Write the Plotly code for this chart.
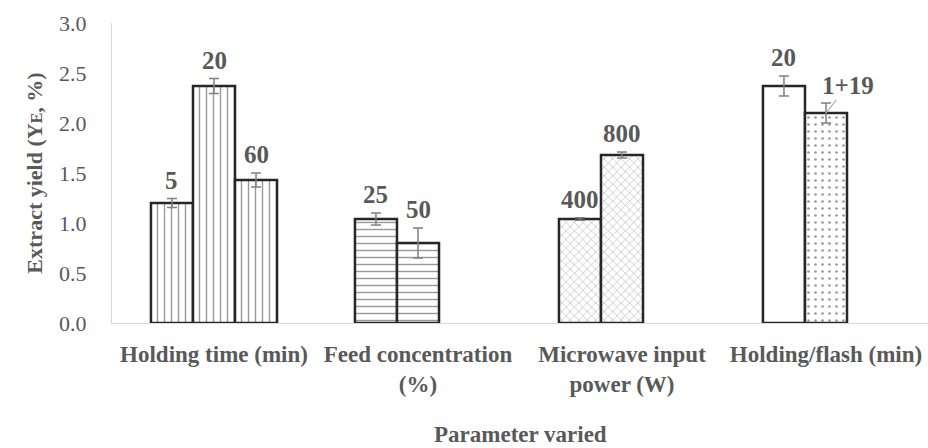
import plotly.graph_objects as go

categories = ["Holding time (min)", "Feed concentration<br>(%)", "Microwave input<br>power (W)", "Holding/flash (min)"]

slot1_vals = [1.20, 1.04, 1.04, 2.37]
slot1_err = [0.045, 0.06, 0.012, 0.10]
slot1_lbls = ["5", "25", "400", "20"]

slot2_vals = [2.37, 0.80, 1.68, 2.10]
slot2_err = [0.075, 0.15, 0.03, 0.10]
slot2_lbls = ["20", "50", "800", "1+19"]

slot3_vals = [1.43, None, None, None]
slot3_err = [0.07, 0, 0, 0]
slot3_lbls = ["60", "", "", ""]

x_title = "Parameter varied"

# pattern per category group
group_shapes_1 = ["|", "-", "x", ""]
group_shapes_2 = ["|", "-", "x", "."]
group_shapes_3 = ["|", "", "", ""]

TXT = "#595959"
FONT = "Liberation Serif"
x_idx = list(range(len(categories)))

def pat(shapes):
    sizes = []
    sol = []
    for s in shapes:
        if s == "|" or s == "-":
            sizes.append(7); sol.append(0.2)
        elif s == "x":
            sizes.append(6); sol.append(0.15)
        elif s == ".":
            sizes.append(7); sol.append(0.12)
        else:
            sizes.append(8); sol.append(0.2)
    return dict(shape=shapes, size=sizes, solidity=sol, fgcolor="#333333", bgcolor="white", fillmode="overlay")

fig = go.Figure()
for vals, errs, shapes in [(slot1_vals, slot1_err, group_shapes_1),
                           (slot2_vals, slot2_err, group_shapes_2),
                           (slot3_vals, slot3_err, group_shapes_3)]:
    fig.add_trace(go.Bar(
        x=x_idx, y=vals,
        marker=dict(color="white", line=dict(color="#262626", width=2.5), pattern=pat(shapes)),
        error_y=dict(type="data", array=errs, color="#808080", thickness=1.5, width=5),
        showlegend=False,
    ))

n_slots = 3
bargap = 0.382
w = (1 - bargap) / n_slots
for slot, (vals, errs, lbls) in enumerate([(slot1_vals, slot1_err, slot1_lbls),
                                           (slot2_vals, slot2_err, slot2_lbls),
                                           (slot3_vals, slot3_err, slot3_lbls)]):
    for i, (v, e, l) in enumerate(zip(vals, errs, lbls)):
        if v is None or not l:
            continue
        xc = i + (slot - 1) * w
        if l == "1+19":
            fig.add_annotation(x=xc, y=v, text="<b>%s</b>" % l, showarrow=True, arrowhead=0,
                               arrowcolor="#a6a6a6", arrowwidth=1.2, ax=22, ay=-28,
                               font=dict(family=FONT, size=25, color=TXT), xref="x", yref="y")
        else:
            fig.add_annotation(x=xc, y=v + e, text="<b>%s</b>" % l, showarrow=False,
                               yanchor="bottom", yshift=3,
                               font=dict(family=FONT, size=25, color=TXT), xref="x", yref="y")

fig.add_annotation(x=0.5, y=-0.37, xref="paper", yref="paper", yanchor="middle",
                   text="<b>%s</b>" % x_title, showarrow=False,
                   font=dict(family=FONT, size=23, color=TXT))

fig.update_layout(
    width=928, height=448,
    margin=dict(l=112, r=0, t=23, b=125),
    paper_bgcolor="white", plot_bgcolor="white",
    barmode="group", bargap=bargap, bargroupgap=0,
    xaxis=dict(
        range=[-0.5, 3.5], tickvals=x_idx,
        ticktext=["<b>%s</b>" % c for c in categories],
        tickfont=dict(family=FONT, size=23, color=TXT),
        showline=True, linecolor="#d9d9d9", linewidth=1, ticks="",
        showgrid=False, zeroline=False, ticklabelstandoff=10,
    ),
    yaxis=dict(
        range=[0, 3.0], dtick=0.5, tickformat=".1f",
        tickfont=dict(family=FONT, size=22, color=TXT),
        showline=True, linecolor="#d9d9d9", linewidth=1, ticks="",
        showgrid=False, zeroline=False, ticklabelstandoff=20,
        title=dict(text="<b>Extract yield (Y<span style='font-size:16px'>E</span>, %)</b>",
                   font=dict(family=FONT, size=22, color=TXT), standoff=10),
    ),
)

fig.write_html("out.html")
